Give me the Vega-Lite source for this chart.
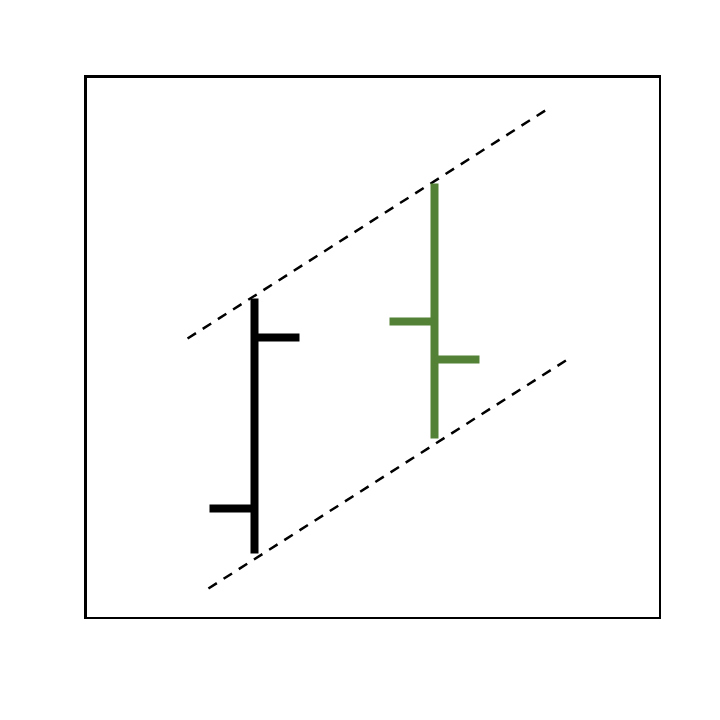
{
  "$schema": "https://vega.github.io/schema/vega-lite/v6.json",
  "width": 575,
  "height": 542,
  "autosize": {"type": "none"},
  "padding": {"left": 85.5, "top": 76.5, "right": 0, "bottom": 0},
  "background": "white",
  "config": {"view": {"stroke": "black", "strokeWidth": 3}},
  "datasets": {
    "bars": [
      {"sym": "A", "x": 1, "open": 11.0, "high": 32.0, "low": 6.5, "close": 28.1},
      {"sym": "B", "x": 2, "open": 29.7, "high": 43.5, "low": 18.0, "close": 25.9}
    ],
    "bands": [
      {"band": "upper", "x": 0.628, "y": 28.0},
      {"band": "upper", "x": 2.633, "y": 51.0},
      {"band": "lower", "x": 0.744, "y": 3.0},
      {"band": "lower", "x": 2.756, "y": 26.1}
    ]
  },
  "layer": [
    {
      "data": {"name": "bands"},
      "mark": {"type": "line", "color": "black", "strokeWidth": 2.5, "strokeDash": [10, 8]},
      "encoding": {
        "x": {"field": "x", "type": "quantitative", "scale": {"domain": [0.0611, 3.2556], "nice": false, "zero": false}, "axis": null},
        "y": {"field": "y", "type": "quantitative", "scale": {"domain": [0, 54.2], "nice": false, "zero": false}, "axis": null},
        "detail": {"field": "band"}
      }
    },
    {
      "data": {"name": "bars"},
      "mark": {"type": "rule", "strokeWidth": 8, "strokeCap": "butt"},
      "encoding": {
        "x": {"field": "x", "type": "quantitative"},
        "y": {"field": "low", "type": "quantitative"},
        "y2": {"field": "high"},
        "color": {"field": "sym", "type": "nominal", "scale": {"domain": ["A", "B"], "range": ["black", "#538135"]}, "legend": null}
      }
    },
    {
      "data": {"name": "bars"},
      "mark": {"type": "rule", "strokeWidth": 8, "strokeCap": "butt", "x2Offset": -45},
      "encoding": {
        "x": {"field": "x", "type": "quantitative"},
        "x2": {"field": "x"},
        "y": {"field": "open", "type": "quantitative"},
        "color": {"field": "sym", "type": "nominal", "legend": null}
      }
    },
    {
      "data": {"name": "bars"},
      "mark": {"type": "rule", "strokeWidth": 8, "strokeCap": "butt", "x2Offset": 45},
      "encoding": {
        "x": {"field": "x", "type": "quantitative"},
        "x2": {"field": "x"},
        "y": {"field": "close", "type": "quantitative"},
        "color": {"field": "sym", "type": "nominal", "legend": null}
      }
    }
  ]
}
